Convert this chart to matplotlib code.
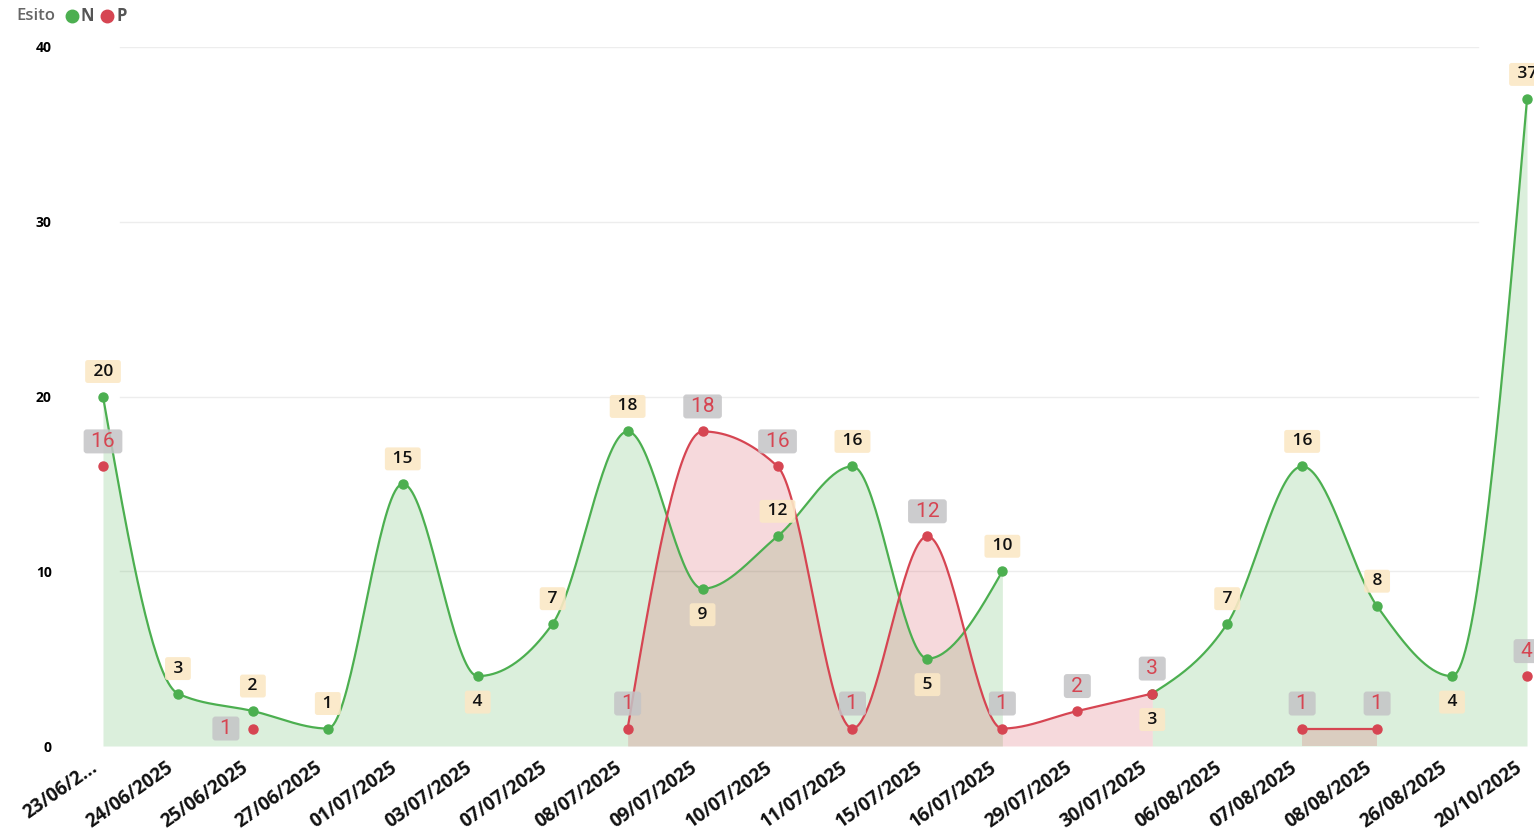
import numpy as np
import matplotlib
matplotlib.use("Agg")
import matplotlib.pyplot as plt
from matplotlib.lines import Line2D

plt.rcParams['font.family'] = ['Open Sans', 'DejaVu Sans']

# --- data -----------------------------------------------------------------
dates = ["23/06/2...", "24/06/2025", "25/06/2025", "27/06/2025", "01/07/2025",
         "03/07/2025", "07/07/2025", "08/07/2025", "09/07/2025", "10/07/2025",
         "11/07/2025", "15/07/2025", "16/07/2025", "29/07/2025", "30/07/2025",
         "06/08/2025", "07/08/2025", "08/08/2025", "26/08/2025", "20/10/2025"]
esito_n = [20, 3, 2, 1, 15, 4, 7, 18, 9, 12, 16, 5, 10, None, 3, 7, 16, 8, 4, 37]
esito_p = [16, None, 1, None, None, None, None, 1, 18, 16, 1, 12, 1, 2, 3,
           None, 1, 1, None, 4]
# where the data label sits: u = above, d = below, l = left
place_n = ["u", "u", "u", "u", "u", "d", "u", "u", "d", "u", "u", "d", "u", None,
           "d", "u", "u", "u", "d", "u"]
place_p = ["u", None, "l", None, None, None, None, "u", "u", "u", "u", "u", "u", "u",
           "u", None, "u", "u", None, "u"]
y_ticks = [0, 10, 20, 30, 40]

green = "#4CAF50"
red = "#D64552"


def monotone(xs, ys, n=40):
    # d3 curveMonotoneX
    xs = np.asarray(xs, float)
    ys = np.asarray(ys, float)
    k = len(xs)
    if k < 3:
        return xs, ys
    h = np.diff(xs)
    s = np.diff(ys) / h
    sg = lambda v: -1.0 if v < 0 else 1.0
    t = np.zeros(k)
    for i in range(1, k - 1):
        p = (s[i - 1] * h[i] + s[i] * h[i - 1]) / (h[i - 1] + h[i])
        t[i] = (sg(s[i - 1]) + sg(s[i])) * min(abs(s[i - 1]), abs(s[i]), 0.5 * abs(p))
    t[0] = (3 * s[0] - t[1]) / 2
    t[-1] = (3 * s[-1] - t[-2]) / 2
    ox, oy = [], []
    for i in range(k - 1):
        u = np.linspace(0, 1, n)
        h00 = 2 * u**3 - 3 * u**2 + 1
        h10 = u**3 - 2 * u**2 + u
        h01 = -2 * u**3 + 3 * u**2
        h11 = u**3 - u**2
        ox.append(xs[i] + u * h[i])
        oy.append(h00 * ys[i] + h10 * h[i] * t[i] + h01 * ys[i + 1] + h11 * h[i] * t[i + 1])
    return np.concatenate(ox), np.concatenate(oy)


def segments(vals):
    segs, cur = [], []
    for i, v in enumerate(vals):
        if v is None:
            if cur:
                segs.append(cur)
            cur = []
        else:
            cur.append(i)
    if cur:
        segs.append(cur)
    return segs


fig = plt.figure(figsize=(15.34, 8.35), dpi=100)
ax = fig.add_axes([85 / 1534, 89 / 835, 1449 / 1534, 699 / 835])
step = 1424 / 19
ax.set_xlim(-18 / step, 19 + 7 / step)
ax.set_ylim(0, 40)

for yv in y_ticks[1:]:
    ax.axhline(yv, xmin=35 / 1449, xmax=1393 / 1449, color="#EDEDED", lw=1, zorder=0)


def draw_series(vals, color, fill_alpha, z):
    for seg in segments(vals):
        xs = seg
        ys = [vals[i] for i in seg]
        cx, cy = monotone(xs, ys)
        if len(seg) > 1:
            ax.fill_between(cx, 0, cy, color=color, alpha=fill_alpha, lw=0, zorder=z)
            ax.plot(cx, cy, color=color, lw=1.6, zorder=z + 2, solid_capstyle="round")
        ax.plot(xs, ys, "o", color=color, ms=6.5, mec=color, zorder=z + 3, clip_on=False)


draw_series(esito_n, green, 0.2, 1)
draw_series(esito_p, red, 0.2, 2)

offs = {"u": (0, 25), "d": (0, -26), "l": (-27, 0)}
for i, (v, pl) in enumerate(zip(esito_n, place_n)):
    if v is None:
        continue
    ax.annotate(f" {v} ", (i, v), xytext=offs[pl], textcoords="offset pixels",
                ha="center", va="center", fontsize=12.5, fontweight="semibold",
                color="#111111", zorder=8, annotation_clip=False,
                bbox=dict(boxstyle="round,pad=0.2,rounding_size=0.15", fc="#FBE8C6",
                          ec="none", alpha=0.9))
for i, (v, pl) in enumerate(zip(esito_p, place_p)):
    if v is None:
        continue
    ax.annotate(f" {v} ", (i, v), xytext=offs[pl], textcoords="offset pixels",
                ha="center", va="center", fontsize=15, family=["Roboto", "DejaVu Sans"],
                color=red, zorder=8, annotation_clip=False,
                bbox=dict(boxstyle="round,pad=0.12,rounding_size=0.15", fc="#C4C4C6",
                          ec="none", alpha=0.85))

# category labels, rotated, ending a little left of each tick
ax.set_xticks(range(len(dates)))
ax.set_xticklabels([])
for i, d in enumerate(dates):
    ax.annotate(d, (i, 0), xytext=(-7, -20), textcoords="offset pixels",
                rotation=35, ha="right", va="center", rotation_mode="anchor",
                fontsize=13.5, fontweight="bold", color="#111111", annotation_clip=False)
ax.set_yticks(y_ticks)
ax.set_yticklabels([str(t) for t in y_ticks], fontsize=10, fontweight="bold")
ax.tick_params(axis="x", length=0)
ax.tick_params(axis="y", length=0, pad=24)
for sp in ax.spines.values():
    sp.set_visible(False)

# legend
ly = 1 - 16 / 835
fig.text(16 / 1534, ly, "Esito", fontsize=12, color="#666666", va="center", fontweight="semibold")
fig.add_artist(Line2D([72 / 1534], [ly], marker="o", ms=9, color=green, lw=0))
fig.text(80 / 1534, ly, "N", fontsize=12, color="#555555", va="center", fontweight="bold")
fig.add_artist(Line2D([107 / 1534], [ly], marker="o", ms=9, color=red, lw=0))
fig.text(116 / 1534, ly, "P", fontsize=12, color="#555555", va="center", fontweight="bold")

fig.savefig("out.png", dpi=100)
